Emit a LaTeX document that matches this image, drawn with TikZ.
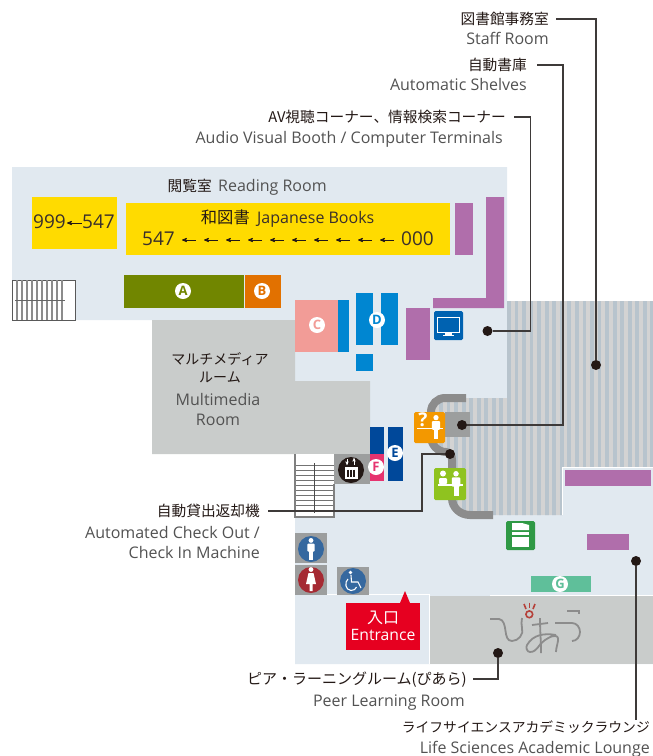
\documentclass[tikz,border=0pt]{standalone}
\usepackage{fontspec}
\setmainfont{Open Sans}
\newfontfamily\cjk{Noto Sans CJK JP}
\usetikzlibrary{arrows}
\definecolor{floorblue}{HTML}{E1E9F0}
\definecolor{roomgray}{HTML}{C9CCCB}
\definecolor{wallgray}{HTML}{8C8C8C}
\definecolor{iconback}{HTML}{9C9E9E}
\definecolor{stripelight}{HTML}{D3D3D3}
\definecolor{stripedark}{HTML}{B8C4CD}
\definecolor{shelfpurple}{HTML}{B06EAB}
\definecolor{bookyellow}{HTML}{FFDB00}
\definecolor{olivegreen}{HTML}{718600}
\definecolor{darkorange}{HTML}{E27100}
\definecolor{salmon}{HTML}{F29C97}
\definecolor{boothblue}{HTML}{0086D1}
\definecolor{screenblue}{HTML}{0062B1}
\definecolor{navyblue}{HTML}{00489A}
\definecolor{hotpink}{HTML}{E6336F}
\definecolor{deskorange}{HTML}{F39800}
\definecolor{deskgreen}{HTML}{8FC31F}
\definecolor{copygreen}{HTML}{2F9945}
\definecolor{mintgreen}{HTML}{5FBF9A}
\definecolor{signblue}{HTML}{35689F}
\definecolor{signred}{HTML}{A52A33}
\definecolor{entrancered}{HTML}{E60020}
\definecolor{inkblack}{HTML}{231815}
\definecolor{linkgray}{HTML}{3E3A39}
\definecolor{logored}{HTML}{B5413A}
\tikzset{
 jplabel/.style={inner ysep=0pt, inner xsep=7pt, text height=12pt, text depth=2pt, text=inkblack, font=\cjk\fontsize{14.7}{14.7}\selectfont},
 enlabel/.style={inner ysep=0pt, inner xsep=0pt, text height=12pt, text depth=2pt, text=black!68, font=\fontsize{16}{16}\selectfont},
 booklabel/.style={enlabel, text=inkblack!90},
 numlabel/.style={booklabel, font=\fontsize{19}{19}\selectfont},
 letterdot/.style={circle, fill=white, inner sep=0pt, minimum size=16pt, font=\bfseries\fontsize{13}{13}\selectfont},
 linkdot/.style={circle, fill=inkblack, inner sep=0pt, minimum size=10pt},
 connect/.style={linkgray, line width=1.2pt},
 thinarrow/.style={<-, >=stealth', inkblack, line width=.8pt},
 logoline/.style={wallgray, line width=1.8pt}
}
\newcommand{\personfig}[3]{
 \fill[white] (#1,#2+.11*#3) circle (.11*#3);
 \fill[white,rounded corners=1pt] (#1-.17*#3,#2+.25*#3) rectangle (#1+.17*#3,#2+.62*#3);
 \fill[white] (#1-.1*#3,#2+.55*#3) rectangle (#1+.1*#3,#2+#3);
}
\begin{document}
\begin{tikzpicture} [x=1pt,y=-1pt]
\useasboundingbox (0,0) rectangle (653,756);
\fill[floorblue] (12,167)--(507,167)--(507,467)--(653,467)--(653,664)--(295,664)--(295,320)--(12,320)--cycle;
\fill[roomgray] (152,320)--(295,320)--(295,381)--(370,381)--(370,454)--(152,454)--cycle;
\fill[roomgray] (430,596) rectangle (653,664);
\draw[white,thick] (295,594.5)--(429,594.5)--(429,664);
\draw[white,thick] (490,595)--(653,595);
\begin{scope}
\clip (507,301)--(653,301)--(653,467)--(562,467)--(562,515)--(470,515)--(452,500)--(452,455)--(431,440)--(431,412)--(445,398)--(507,398)--cycle;
\fill[stripelight] (425,295) rectangle (653,520);
\foreach \x in {0,1,...,30} {
 \fill[stripedark] (431.5+7.55*\x,295) rectangle ++(3.8,225);
}
\end{scope}
\draw[white] (653,467)--(562,467)--(562,515);
\draw[wallgray,line width=8pt] (466,398)--(445,398) to[out=180,in=90] (431,412)--(431,436) to[out=-90,in=180] (446,452) to[out=0,in=90] (452,460)--(452,498) to[out=-90,in=180] (470,515)--(493,515);

\foreach \a/\b/\c/\d in {455/203/473/255, 406/308/430/360, 565/470/651/486, 587/534/629/550} {
 \fill[shelfpurple] (\a,\b) rectangle (\c,\d);
}
\fill[shelfpurple] (486,197)--(504,197)--(504,308)--(433,308)--(433,298)--(486,298)--cycle;

\fill[bookyellow] (32,197) rectangle (117,249);
\fill[bookyellow] (126,203) rectangle (450,255);
\fill[olivegreen] (124,275) rectangle (244,308);
\fill[darkorange] (245,275) rectangle (281,308);
\fill[salmon] (295,300) rectangle (338,352);
\fill[boothblue] (338,300) rectangle (349,352);
\foreach \a/\b/\c/\d in {356/293/373/345, 381/293/398/345, 356/354/373/371} {
 \fill[boothblue] (\a,\b) rectangle (\c,\d);
}
\fill[navyblue] (370,427) rectangle (384,454);
\fill[hotpink] (370,454) rectangle (384,481);
\fill[navyblue] (388,427) rectangle (403,481);
\fill[mintgreen] (531,576) rectangle (591,592);

\draw[black!65,fill=white,line width=1pt] (12,280) rectangle (75,320);
\foreach \x in {17,22,...,62} {
 \draw[black!45,line width=1.3pt] (\x,280) --++(0,40);
}
\draw[black!60,line width=1pt] (15,300)--(65,300);
\fill[white] (295,454) rectangle (334,517);
\foreach \y in {465,470,...,510} {
 \draw[black!55] (295,\y) --++(39,0);
}
\draw[black!50,line width=1.2pt] (295,454)--(295,517)--(334,517)--(334,484);
\draw[black!70] (314,463)--(314,513);

\fill[iconback] (334,454) rectangle (370,484);
\fill[inkblack] (351,470) circle (13);
\draw[white,thick,fill=white] (345,467) rectangle (357,478);
\foreach \x in {348,351,354} {
 \draw[inkblack,line width=1.3pt] (\x,469.5) --++(0,7);
}
\draw[white,->,>=stealth'] (347,459)--(347,465);
\draw[white,->,>=stealth'] (354,465)--(354,458);

\fill[screenblue,rounded corners=1.5pt] (434,311) rectangle (463,340);
\draw[white,thick] (437.5,317) rectangle (459.5,332);
\fill[white] (445,332) rectangle (452,335);
\fill[white] (443,334.5) rectangle (454,336);

\fill[iconback] (445,412) rectangle (470,437);
\fill[deskorange,rounded corners=1.5pt] (414,412) rectangle (445,443);
\node[inner sep=0pt, text=white, font=\bfseries\fontsize{19}{19}\selectfont] (askMark) at (423,420) {?};
\personfig{436}{415}{24}
\fill[white] (417,427.5) rectangle (443,429);

\fill[deskgreen,rounded corners=1.5pt] (434,468) rectangle (466,500);
\fill[white] (443,473.5) circle (3);
\fill[white,rounded corners=1pt] (439,478) rectangle (447,484);
\personfig{456}{471}{25}
\fill[white] (438,484) rectangle (463,485.5);

\fill[copygreen,rounded corners=1.5pt] (506,521) rectangle (535,550);
\fill[white] (512,523)--(522,523)--(529,525)--(529,530)--(512,530)--cycle;
\fill[white] (512,532) rectangle (529,535);
\fill[white] (512,537) rectangle (529,547);

\fill[iconback] (295,533) rectangle (327,563);
\fill[iconback] (295,565) rectangle (327,595);
\fill[iconback] (337,567) rectangle (369,595);
\fill[signblue] (311,549) circle (13);
\fill[signred] (311,580) circle (13);
\fill[signblue] (353,581) circle (13);
\personfig{311}{538}{22}
\fill[white] (311,569.5) circle (2.4);
\fill[white] (308.5,573)--(313.5,573)--(316,584)--(312.5,584)--(312.5,591)--(309.5,591)--(309.5,584)--(306,584)--cycle;
\fill[white] (350.5,572.5) circle (1.8);
\draw[white,line width=1.1pt] (351,575)--(351.5,582)--(358,582)--(361,588);
\draw[white,line width=1.1pt] (348,579) .. controls (344.5,582) and (345,590) .. (351,590.5) .. controls (354,590.5) and (356,589) .. (356.5,587);

\fill[entrancered] (346,603) rectangle (420,650);
\fill[entrancered] (400,603)--(405,591)--(410,603)--cycle;
\node[inner sep=0pt, text=white, font=\cjk\fontsize{16}{16}\selectfont] (entranceJp) at (383,618) {入口};
\node[inner sep=0pt, text=white, font=\fontsize{15.7}{15.7}\selectfont] (entranceEn) at (383,635) {Entrance};

\draw[logoline] (490,619)--(499,619) to[out=-10,in=180] (512,641) to[out=0,in=-70] (522,628) to[out=110,in=-90] (522,618);
\draw[logoline] (532,625)--(548,623);
\draw[logoline] (540,618) to[out=-90,in=90] (541,653);
\draw[logoline] (556,635) to[out=170,in=60] (527,645) to[out=240,in=180] (530,652) to[out=0,in=-150] (545,640) to[out=30,in=180] (555,636) to[out=0,in=90] (556,652);
\draw[logoline] (567,611)--(579,611)--(579,614);
\draw[logoline] (555,623)--(572,623) to[out=0,in=90] (580,632) to[out=-90,in=0] (572,641);
\draw[logored,line width=1.6pt] (529.3,614.3) circle (3.4);
\draw[logored,line width=1.6pt] (524,604)--(526,609);
\draw[logored,line width=1.6pt] (529.5,602.5)--(529.5,608);
\draw[logored,line width=1.6pt] (535,604)--(533,609);

\node[letterdot, text=olivegreen] (letterA) at (183,291) {A};
\node[letterdot, text=darkorange] (letterB) at (262,291) {B};
\node[letterdot, text=salmon] (letterC) at (317,325) {C};
\node[letterdot, text=boothblue] (letterD) at (377,320) {D};
\node[letterdot, text=navyblue] (letterE) at (395,453) {E};
\node[letterdot, text=hotpink] (letterF) at (376,467) {F};
\node[letterdot, text=mintgreen] (letterG) at (560,584) {G};

\node[jplabel, anchor=east, inner xsep=0pt] (readingJp) at (212,186) {閲覧室};
\node[enlabel, anchor=west] (readingEn) at (218,186) {Reading Room};
\node[jplabel, anchor=east, inner xsep=0pt, font=\cjk\fontsize{16.3}{16.3}\selectfont] (bookJp) at (250,218) {和図書};
\node[booklabel, anchor=west] (bookEn) at (257,218) {Japanese Books};
\node[numlabel, anchor=west] (rowStart) at (142,240) {547};
\node[numlabel, anchor=east] (rowEnd) at (434,240) {000};
\foreach \x in {182,204,...,380} {
 \draw[thinarrow] (\x,240) --++(14,0);
}
\node[numlabel, anchor=west] (sideStart) at (33,223) {999};
\node[numlabel, anchor=east] (sideEnd) at (115,223) {547};
\draw[thinarrow] (sideStart.east) ++(1,0) --++(15,0);

\node[jplabel, inner xsep=0pt, font=\cjk\fontsize{14}{14}\selectfont] (mediaJpOne) at (220,359) {マルチメディア};
\node[jplabel, inner xsep=0pt, font=\cjk\fontsize{14}{14}\selectfont] (mediaJpTwo) at (220,377) {ルーム};
\node[enlabel] (mediaEnOne) at (218,400) {Multimedia};
\node[enlabel] (mediaEnTwo) at (218,420) {Room};

\node[jplabel, anchor=east] (staffJp) at (556,19) {図書館事務室};
\node[enlabel, anchor=east] (staffEn) at (549,39) {Staff Room};
\node[jplabel, anchor=east, inner xsep=10pt] (shelvesJp) at (537,65) {自動書庫};
\node[enlabel, anchor=east] (shelvesEn) at (527,85) {Automatic Shelves};
\node[jplabel, anchor=east, inner xsep=8pt] (boothJp) at (514,117) {AV視聴コーナー、情報検索コーナー};
\node[enlabel, anchor=east] (boothEn) at (503,138) {Audio Visual Booth / Computer Terminals};
\node[jplabel, anchor=east, inner xsep=8pt] (checkJp) at (268,511) {自動貸出返却機};
\node[enlabel, anchor=east] (checkEnOne) at (260,533) {Automated Check Out /};
\node[enlabel, anchor=east] (checkEnTwo) at (260,553) {Check In Machine};
\node[jplabel, anchor=east, inner xsep=6pt, font=\cjk\fontsize{15}{15}\selectfont] (peerJp) at (473,679) {ピア・ラーニングルーム(ぴあら)};
\node[enlabel, anchor=east] (peerEn) at (465,701) {Peer Learning Room};
\node[jplabel, anchor=east, inner xsep=0pt, font=\cjk\fontsize{13.8}{13.8}\selectfont] (lifeJp) at (650,727) {ライフサイエンスアカデミックラウンジ};
\node[enlabel, anchor=east] (lifeEn) at (650,748) {Life Sciences Academic Lounge};

\node[linkdot] (staffDot) at (596,365) {};
\node[linkdot] (shelvesDot) at (462,425) {};
\node[linkdot] (boothDot) at (487.5,331) {};
\node[linkdot] (checkDot) at (450,454) {};
\node[linkdot] (peerDot) at (498,653) {};
\node[linkdot] (lifeDot) at (636,561) {};
\coordinate (checkBend) at (422,454);
\draw[connect] (staffJp.east) -| (staffDot);
\draw[connect] (shelvesJp.east) -| (563,425) -- (shelvesDot);
\draw[connect] (boothJp.east) -| (530.5,331) -- (boothDot);
\draw[connect] (checkJp.east) -| (checkBend) -- (checkDot);
\draw[connect] (peerJp.east) -| (peerDot);
\draw[connect] (lifeDot) -- (lifeDot |- lifeJp.north);
\end{tikzpicture}
\end{document}
